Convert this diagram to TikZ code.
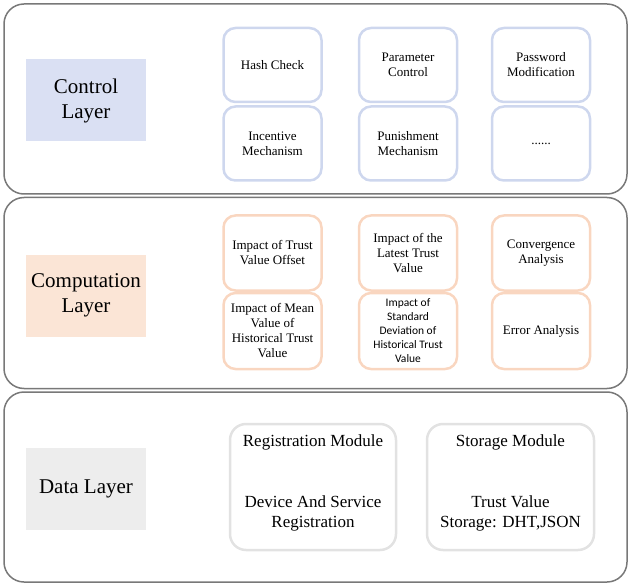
\documentclass[tikz,border=0pt]{standalone}
\usepackage{fontspec}
\setmainfont{Liberation Serif}
\newfontfamily\serifont{Liberation Serif}
\newfontfamily\calibrifont{Carlito}
\definecolor{panelgray}{RGB}{120,120,120}
\definecolor{ctrlfill}{RGB}{218,224,243}
\definecolor{compfill}{RGB}{251,229,214}
\definecolor{datafill}{RGB}{237,237,237}
\definecolor{ctrlborder}{RGB}{206,215,238}
\definecolor{compborder}{RGB}{249,214,192}
\definecolor{databorder}{RGB}{226,226,226}
\tikzset{
  panel/.style={draw=panelgray, line width=1.5pt, rounded corners=20pt, minimum width=623pt, inner sep=0pt},
  layerlabel/.style={minimum width=120pt, minimum height=82pt, align=center, inner sep=0pt, font=\serifont\fontsize{21}{25}\selectfont},
  smallbox/.style={line width=2.5pt, rounded corners=12pt, minimum width=98pt, align=center, inner sep=0pt, font=\serifont\fontsize{13}{15}\selectfont},
  ctrlbox/.style={smallbox, draw=ctrlborder, minimum height=74pt},
  compbox/.style={smallbox, draw=compborder, minimum height=75pt},
  databox/.style={line width=2.5pt, rounded corners=16pt, draw=databorder, minimum height=126pt, inner sep=0pt},
  datatext/.style={align=center, inner sep=0pt, font=\serifont\fontsize{17}{20}\selectfont}
}
\begin{document}
\begin{tikzpicture}[x=1pt,y=-1pt]
\useasboundingbox (0,0) rectangle (631,585);
% panels
\node[panel, minimum height=190pt] (p1) at (315.5,99) {};
\node[panel, minimum height=191pt] (p2) at (315.5,293) {};
\node[panel, minimum height=190pt] (p3) at (315.5,487) {};
% layer labels
\node[layerlabel, fill=ctrlfill] (lc) at (86,100.5) {Control\\Layer};
\node[layerlabel, fill=compfill] (lp) at (86,295.5) {Computation\\Layer};
\node[layerlabel, fill=datafill] (ld) at (86,488.5) {Data Layer};
% control boxes
\node[ctrlbox] (c11) at (272.5,65) {Hash Check};
\node[ctrlbox] (c12) at (408,65) {Parameter\\Control};
\node[ctrlbox] (c13) at (541,65) {Password\\Modification};
\node[ctrlbox] (c21) at (272.5,143.5) {Incentive\\Mechanism};
\node[ctrlbox] (c22) at (408,143.5) {Punishment\\Mechanism};
\node[ctrlbox] (c23) at (541,143.5) {......};
% computation boxes
\node[compbox] (k11) at (272.5,253) {Impact of Trust\\Value Offset};
\node[compbox] (k12) at (408,253) {Impact of the\\Latest Trust\\Value};
\node[compbox] (k13) at (541,253) {Convergence\\Analysis};
\node[compbox, minimum height=76pt] (k21) at (272.5,331) {Impact of Mean\\Value of\\Historical Trust\\Value};
\node[compbox, minimum height=76pt, font=\calibrifont\fontsize{11.5}{14}\selectfont] (k22) at (408,331) {Impact of\\Standard\\Deviation of\\Historical Trust\\Value};
\node[compbox, minimum height=76pt] (k23) at (541,331) {Error Analysis};
% data boxes
\node[databox, minimum width=166pt] (d1) at (313,487) {};
\node[databox, minimum width=167pt] (d2) at (510.5,487) {};
\node[datatext] (d1t) at (313,442) {Registration Module};
\node[datatext] (d1b) at (313,513) {Device And Service\\Registration};
\node[datatext] (d2t) at (510.5,442) {Storage Module};
\node[datatext] (d2b) at (510.5,513) {Trust Value\\Storage: DHT,JSON};
\end{tikzpicture}
\end{document}
